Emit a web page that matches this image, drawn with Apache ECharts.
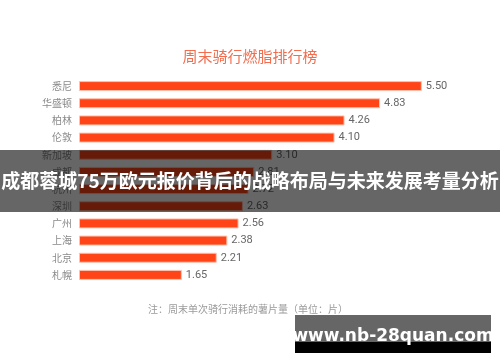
<!DOCTYPE html>
<html><head><meta charset="utf-8">
<script src="https://cdn.jsdelivr.net/npm/echarts@6/dist/echarts.min.js"></script>
<style>html,body{margin:0;padding:0;background:#fff}#c{width:500px;height:362px}</style>
</head><body><div id="c"></div>
<script>
const categories = ['悉尼','华盛顿','柏林','伦敦','新加坡','成都','杭州','深圳','广州','上海','北京','札幌'];
const values = [5.50,4.83,4.26,4.10,3.10,2.81,2.72,2.63,2.56,2.38,2.21,1.65];
const titleText = '周末骑行燃脂排行榜';
const noteText = '注：周末单次骑行消耗的薯片量（单位：片）';
const bannerText = '成都蓉城75万欧元报价背后的战略布局与未来发展考量分析';
const watermarkText = 'www.nb-28quan.com';

const chart = echarts.init(document.getElementById('c'));
chart.setOption({
  animation:false,
  backgroundColor:'#fff',
  title:{text:titleText,left:'center',top:44,textStyle:{color:'#f36c4d',fontSize:15,fontWeight:'normal',fontFamily:'Noto Sans CJK SC'}},
  grid:{left:79,right:47,top:77.5,bottom:78.5,containLabel:false},
  xAxis:{type:'value',min:0,max:6,show:false},
  yAxis:{type:'category',data:categories,inverse:true,
    axisLine:{show:false},axisTick:{show:false},
    axisLabel:{color:'#8a8a8a',fontSize:10,margin:7,fontFamily:'Noto Sans CJK SC'}},
  series:[{type:'bar',data:values,barWidth:10,
    itemStyle:{color:'#ff4517',borderColor:'#ffc0ad',borderWidth:1},
    label:{show:true,position:'right',distance:4,color:'#666',fontSize:11,
      fontFamily:'Liberation Sans Narrow, Roboto, sans-serif',formatter:p=>p.value.toFixed(2)}}],
  graphic:[
    {type:'text',left:148,top:304,style:{text:noteText,fill:'#9a9a9a',fontSize:10,fontFamily:'Noto Sans CJK SC'}},
    {type:'rect',z:100,shape:{x:0,y:150,width:500,height:62},style:{fill:'rgba(0,0,0,0.6)'}},
    {type:'text',z:101,x:250,y:181,style:{text:bannerText,fill:'#fff',fontSize:19,fontWeight:'bold',
      fontFamily:'Noto Sans CJK SC',align:'center',verticalAlign:'middle'}},
    {type:'rect',z:100,shape:{x:295,y:315,width:196,height:27},style:{fill:'#666'}},
    {type:'rect',z:100,shape:{x:295,y:342,width:196,height:11},style:{fill:'#000'}},
    {type:'text',z:101,x:393,y:337,style:{text:watermarkText,fill:'#fff',fontSize:17,fontWeight:'bold',
      fontFamily:'DejaVu Sans, sans-serif',align:'center',verticalAlign:'middle'}}
  ]
});
</script></body></html>
